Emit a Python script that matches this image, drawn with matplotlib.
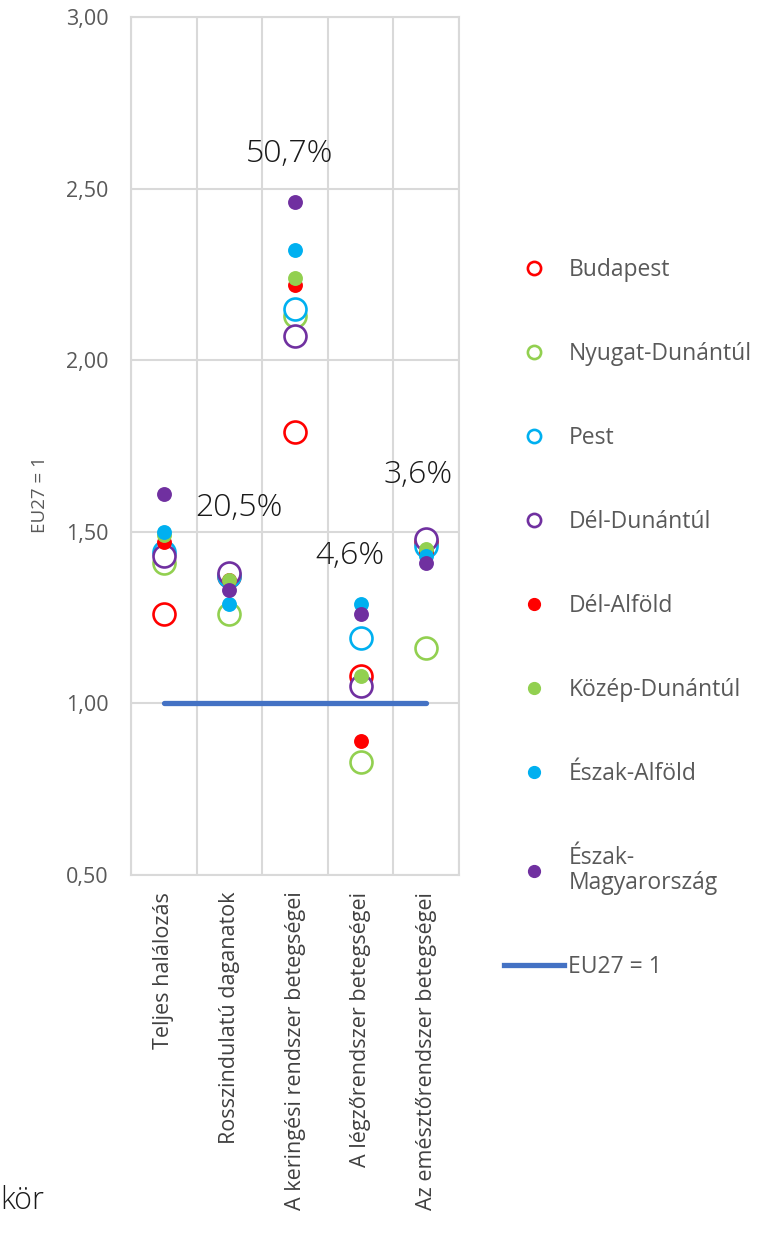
import matplotlib
matplotlib.use("Agg")
import matplotlib.pyplot as plt
from matplotlib.lines import Line2D
from matplotlib.ticker import FuncFormatter, FixedLocator

plt.rcParams["font.family"] = ["Open Sans", "DejaVu Sans"]

# Data
categories = [
    "Teljes halálozás",
    "Rosszindulatú daganatok",
    "A keringési rendszer betegségei",
    "A légzőrendszer betegségei",
    "Az emésztőrendszer betegségei",
]
regions = [
    "Budapest",
    "Nyugat-Dunántúl",
    "Pest",
    "Dél-Dunántúl",
    "Dél-Alföld",
    "Közép-Dunántúl",
    "Észak-Alföld",
    "Észak-\nMagyarország",
]
budapest = [1.26, 1.37, 1.79, 1.08, 1.47]
nyugat_dunantul = [1.41, 1.26, 2.13, 0.83, 1.16]
pest = [1.44, 1.37, 2.15, 1.19, 1.46]
del_dunantul = [1.43, 1.38, 2.07, 1.05, 1.48]
del_alfold = [1.47, 1.36, 2.22, 0.89, 1.44]
kozep_dunantul = [1.49, 1.36, 2.24, 1.08, 1.45]
eszak_alfold = [1.50, 1.29, 2.32, 1.29, 1.43]
eszak_magyarorszag = [1.61, 1.33, 2.46, 1.26, 1.41]
series = [budapest, nyugat_dunantul, pest, del_dunantul,
          del_alfold, kozep_dunantul, eszak_alfold, eszak_magyarorszag]
eu27 = 1.0
share_labels = ["20,5%", "50,7%", "4,6%", "3,6%"]

# style
colors = ["#FF0000", "#92D050", "#00B0F0", "#7030A0"] * 2
hollow = [True] * 4 + [False] * 4
grid_c = "#D9D9D9"
text_c = "#595959"

fig = plt.figure(figsize=(7.64, 12.47), dpi=100)
ax = fig.add_axes([0.1715, 0.2983, 0.4293, 0.6881])

x = list(range(len(categories)))
handles = []
for vals, col, open_, name in zip(series, colors, hollow, regions):
    if open_:
        ax.scatter(x, vals, s=250, facecolors="white", edgecolors=col,
                   linewidths=1.9, zorder=3)
        h = Line2D([], [], ls="", marker="o", ms=9.5, mfc="white", mec=col, mew=1.9)
    else:
        ax.scatter(x, vals, s=115, color=col, zorder=3, linewidths=0)
        h = Line2D([], [], ls="", marker="o", ms=8.5, mfc=col, mec=col)
    handles.append(h)

ax.plot([x[0], x[-1]], [eu27, eu27], color="#4472C4", lw=3.8,
        solid_capstyle="round", zorder=2)
handles.append(Line2D([], [], color="#4472C4", lw=3.8))

# share annotations
pct_style = dict(ha="center", va="center", fontsize=23, fontweight="light",
                 color="#1a1a1a")
ax.text(1.14, 1.57, share_labels[0], **pct_style)
ax.text(1.92, 2.60, share_labels[1], **pct_style)
ax.text(2.83, 1.43, share_labels[2], **pct_style)
ax.text(3.88, 1.665, share_labels[3], **pct_style)

ax.set_xlim(-0.5, len(categories) - 0.5)
ax.set_ylim(0.5, 3.0)
ax.set_yticks([0.5, 1.0, 1.5, 2.0, 2.5, 3.0])
ax.yaxis.set_major_formatter(FuncFormatter(lambda v, p: f"{v:.2f}".replace(".", ",")))
ax.set_xticks(x)
ax.set_xticklabels(categories, rotation=90, fontsize=15.5, color="#404040")
ax.xaxis.set_minor_locator(FixedLocator([i - 0.5 for i in range(len(categories) + 1)]))
ax.grid(True, which="minor", axis="x", color=grid_c, lw=1.5)
ax.grid(True, which="major", axis="y", color=grid_c, lw=1.5)
ax.set_axisbelow(True)
ax.tick_params(axis="both", which="both", length=0)
ax.tick_params(axis="y", labelsize=15.5, labelcolor=text_c, pad=16)
ax.tick_params(axis="x", pad=12)
for s in ax.spines.values():
    s.set_color(grid_c)
    s.set_linewidth(1.5)
ax.set_ylabel("EU27 = 1", fontsize=13.5, color=text_c)
ax.yaxis.set_label_coords(-0.25, 0.443)

leg = fig.legend(handles, regions + ["EU27 = 1"], loc="upper left",
                 bbox_to_anchor=(0.633, 0.81), frameon=False, fontsize=16.5,
                 labelcolor=text_c, labelspacing=2.62, handlelength=2.6,
                 handletextpad=0.2)
leg.get_texts()[7].set_linespacing(1.05)

fig.text(0.0, 0.037, "kör", fontsize=22, fontweight="light", color="#1a1a1a",
         ha="left", va="center")

fig.savefig("out.png", dpi=100)
